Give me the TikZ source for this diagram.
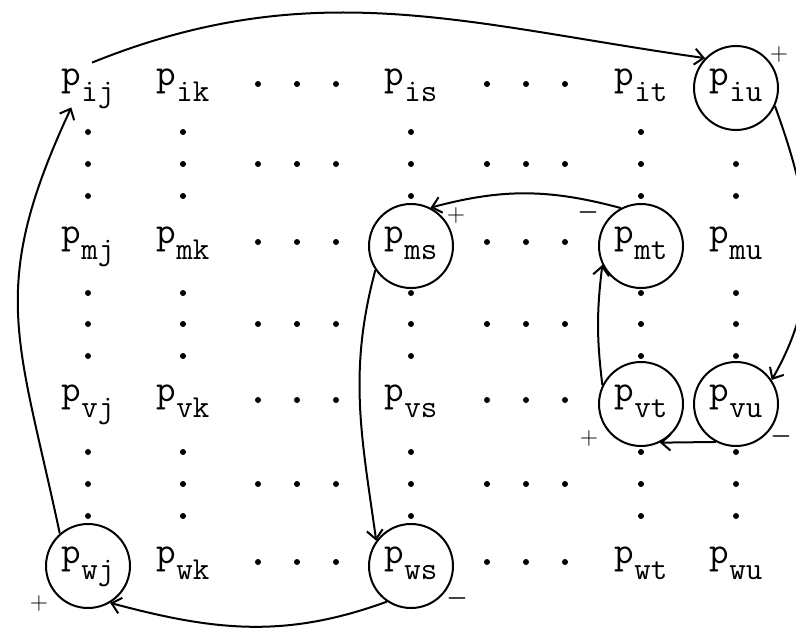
\documentclass[tikz,border=0pt]{standalone}
\usetikzlibrary{arrows.meta}
\newcommand\pp[1]{p\raisebox{-8pt}{\fontsize{16}{16}\selectfont #1}}
\tikzset{
  pn/.style={font=\fontsize{19}{19}\selectfont\ttfamily, inner sep=0pt, text height=8pt, text depth=11pt},
  cn/.style={pn, circle, draw, line width=1pt, minimum size=42pt},
  arr/.style={line width=1pt, -{Straight Barb[length=4.5pt,width=8pt]}},
  plus/.style={font=\fontsize{12}{12}\selectfont, inner sep=0pt},
  minus/.style={font=\fontsize{12}{12}\selectfont\boldmath, inner sep=0pt},
  dotm/.style={fill=black}
}
\begin{document}
\begin{tikzpicture}[x=0.5pt,y=-0.5pt]
\useasboundingbox (0,0) rectangle (796,631);
% columns j=88 k=183 s=411 t=641 u=736 ; rows i=88 m=246 v=404 w=566
\node[pn] (ij) at (88,88) {\pp{ij}};
\node[pn] (ik) at (183,88) {\pp{ik}};
\node[pn] (is) at (411,88) {\pp{is}};
\node[pn] (it) at (641,88) {\pp{it}};
\node[cn] (iu) at (736,88) {\pp{iu}};
\node[pn] (mj) at (88,246) {\pp{mj}};
\node[pn] (mk) at (183,246) {\pp{mk}};
\node[cn] (ms) at (411,246) {\pp{ms}};
\node[cn] (mt) at (641,246) {\pp{mt}};
\node[pn] (mu) at (736,246) {\pp{mu}};
\node[pn] (vj) at (88,404) {\pp{vj}};
\node[pn] (vk) at (183,404) {\pp{vk}};
\node[pn] (vs) at (411,404) {\pp{vs}};
\node[cn] (vt) at (641,404) {\pp{vt}};
\node[cn] (vu) at (736,404) {\pp{vu}};
\node[cn] (wj) at (88,566) {\pp{wj}};
\node[pn] (wk) at (183,566) {\pp{wk}};
\node[cn] (ws) at (411,566) {\pp{ws}};
\node[pn] (wt) at (641,566) {\pp{wt}};
\node[pn] (wu) at (736,566) {\pp{wu}};
% vertical dots
\foreach \x in {88,183,411,641,736}{
  \foreach \y in {164,196,293,324,356,452,484,516}{
    \fill[dotm] (\x,\y) circle[radius=1.5pt];
  }
}
\foreach \x in {88,183,411,641}{\fill[dotm] (\x,132) circle[radius=1.5pt];}
% horizontal dots
\foreach \y in {84,164,242,324,400,484,562}{
  \foreach \x in {258,297,336,487,526,565}{
    \fill[dotm] (\x,\y) circle[radius=1.5pt];
  }
}
% signs
\node[plus] (s1) at (779,55) {$+$};
\node[plus] (s2) at (456,215) {$+$};
\node[minus] (s3) at (588,212) {$-$};
\node[plus] (s4) at (589,438) {$+$};
\node[minus] (s5) at (781,436) {$-$};
\node[minus] (s6) at (457,598) {$-$};
\node[plus] (s7) at (39,603) {$+$};
% arrows
\draw[arr] ([xshift=2pt,yshift=3pt]ij.north) to[out=22,in=172] (iu.136);
\draw[arr] (iu.-25) to[out=-70,in=60] (vu.34);
\draw[arr] (vu.-118) -- (vt.-64);
\draw[arr] (vt.154) to[out=97,in=-97] (mt.-154);
\draw[arr] (mt.118) to[out=165,in=15] (ms.63);
\draw[arr] (ms.-146) to[out=-105,in=98] (ws.144);
\draw[arr] (ws.-124) to[out=-160,in=-15] (wj.-59);
\draw[arr] (wj.131) to[out=102,in=-115,looseness=1.2] ([xshift=5pt]ij.south west);
\end{tikzpicture}
\end{document}
